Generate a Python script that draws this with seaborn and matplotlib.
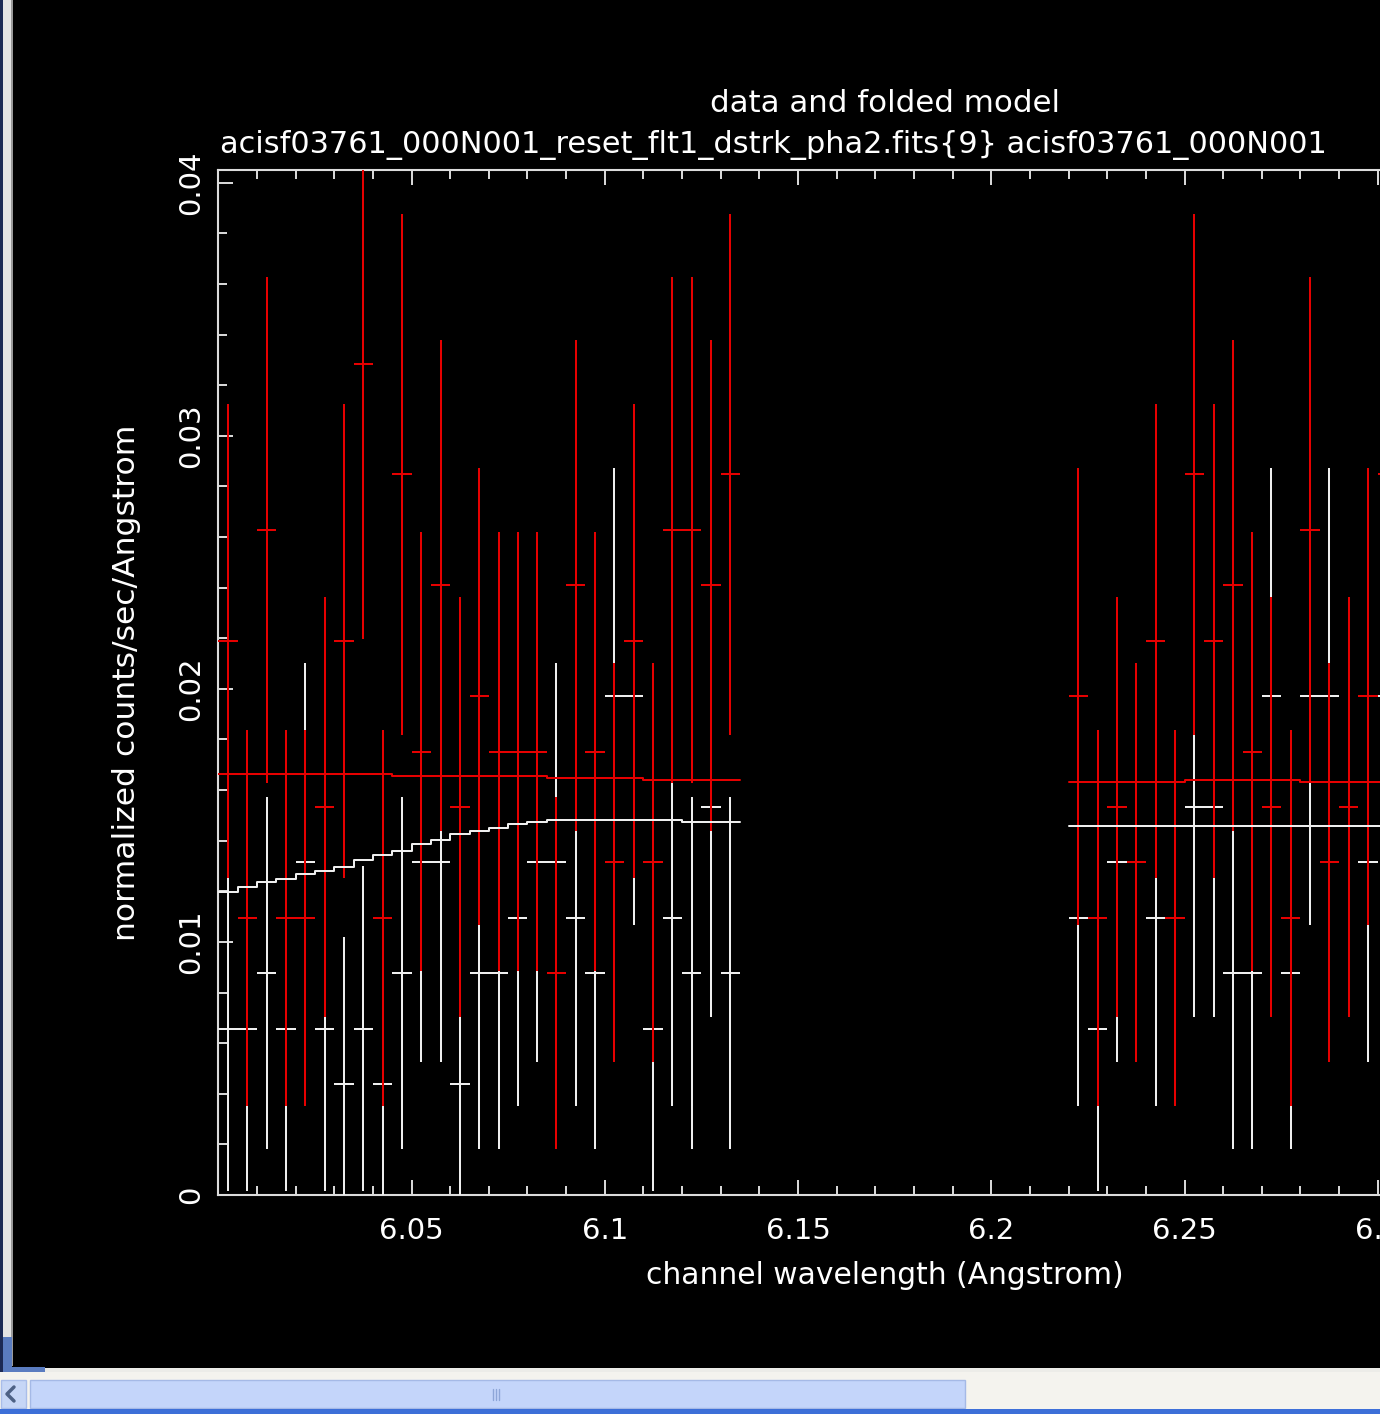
import matplotlib
matplotlib.use("Agg")
import matplotlib.pyplot as plt
import numpy as np
import pandas as pd
import seaborn as sns
from matplotlib.patches import Rectangle
from matplotlib.lines import Line2D

# ---------------- data ----------------
half_width = 0.0025  # half of a 0.005 A channel

x_left = [6.0025, 6.0075, 6.0125, 6.0175, 6.0225, 6.0275, 6.0325, 6.0375, 6.0425,
          6.0475, 6.0525, 6.0575, 6.0625, 6.0675, 6.0725, 6.0775, 6.0825, 6.0875,
          6.0925, 6.0975, 6.1025, 6.1075, 6.1125, 6.1175, 6.1225, 6.1275, 6.1325]
x_right = [6.2225, 6.2275, 6.2325, 6.2375, 6.2425, 6.2475, 6.2525, 6.2575, 6.2625,
           6.2675, 6.2725, 6.2775, 6.2825, 6.2875, 6.2925, 6.2975, 6.3025]

red_left = [0.0219, 0.01095, 0.02628, 0.01095, 0.01095, 0.01533, 0.0219, 0.03285, 0.01095,
            0.02847, 0.01752, 0.02409, 0.01533, 0.01971, 0.01752, 0.01752, 0.01752, 0.00876,
            0.02409, 0.01752, 0.01314, 0.0219, 0.01314, 0.02628, 0.02628, 0.02409, 0.02847]
red_left_err = [0.00937, 0.00744, 0.01001, 0.00744, 0.00744, 0.00829, 0.00937, 0.01088, 0.00744,
                0.01031, 0.00867, 0.0097, 0.00829, 0.00903, 0.00867, 0.00867, 0.00867, 0.00696,
                0.0097, 0.00867, 0.00788, 0.00937, 0.00788, 0.01001, 0.01001, 0.0097, 0.01031]
white_left = [0.00657, 0.00657, 0.00876, 0.00657, 0.01314, 0.00657, 0.00438, 0.00657, 0.00438,
              0.00876, 0.01314, 0.01314, 0.00438, 0.00876, 0.00876, 0.01095, 0.01314, 0.01314,
              0.01095, 0.00876, 0.01971, 0.01971, 0.00657, 0.01095, 0.00876, 0.01533, 0.00876]
white_left_err = [0.00643, 0.00643, 0.00696, 0.00643, 0.00788, 0.00643, 0.00582, 0.00643, 0.00582,
                  0.00696, 0.00788, 0.00788, 0.00582, 0.00696, 0.00696, 0.00744, 0.00788, 0.00788,
                  0.00744, 0.00696, 0.00903, 0.00903, 0.00643, 0.00744, 0.00696, 0.00829, 0.00696]

red_right = [0.01971, 0.01095, 0.01533, 0.01314, 0.0219, 0.01095, 0.02847, 0.0219, 0.02409,
             0.01752, 0.01533, 0.01095, 0.02628, 0.01314, 0.01533, 0.01971, 0.02847]
red_right_err = [0.00903, 0.00744, 0.00829, 0.00788, 0.00937, 0.00744, 0.01031, 0.00937, 0.0097,
                 0.00867, 0.00829, 0.00744, 0.01001, 0.00788, 0.00829, 0.00903, 0.01031]
white_right = [0.01095, 0.00657, 0.01314, 0.01314, 0.01095, 0.01095, 0.01533, 0.01533, 0.00876,
               0.00876, 0.01971, 0.00876, 0.01971, 0.01971, 0.01533, 0.01314, 0.01971]
white_right_err = [0.00744, 0.00643, 0.00788, 0.00788, 0.00744, 0.00744, 0.00829, 0.00829, 0.00696,
                   0.00696, 0.00903, 0.00696, 0.00903, 0.00903, 0.00829, 0.00788, 0.00903]

# folded models (one value per channel)
white_model_left = [0.01196, 0.01218, 0.01235, 0.01249, 0.01267, 0.01281, 0.01297, 0.01322, 0.01345,
                    0.01360, 0.01386, 0.01401, 0.01425, 0.01439, 0.01449, 0.01465, 0.01473, 0.01482,
                    0.01482, 0.01482, 0.01482, 0.01482, 0.01482, 0.01482, 0.01473, 0.01473, 0.01473]
red_model_left = [0.01663, 0.01663, 0.01663, 0.01663, 0.01663, 0.01663, 0.01663, 0.01663, 0.01663,
                  0.01656, 0.01656, 0.01656, 0.01656, 0.01656, 0.01656, 0.01656, 0.01656, 0.01648,
                  0.01648, 0.01648, 0.01648, 0.01648, 0.01640, 0.01640, 0.01640, 0.01640, 0.01640]
white_model_right = [0.01457, 0.01457, 0.01457, 0.01457, 0.01457, 0.01457, 0.01457, 0.01457, 0.01457,
                     0.01457, 0.01457, 0.01457, 0.01457, 0.01457, 0.01457, 0.01457, 0.01457]
red_model_right = [0.01632, 0.01632, 0.01632, 0.01632, 0.01632, 0.01632, 0.01640, 0.01640, 0.01640,
                   0.01640, 0.01640, 0.01640, 0.01632, 0.01632, 0.01632, 0.01632, 0.01632]

x_major = [6.05, 6.1, 6.15, 6.2, 6.25, 6.3]
x_major_labels = ["6.05", "6.1", "6.15", "6.2", "6.25", "6.3"]
y_major = [0.0, 0.01, 0.02, 0.03, 0.04]
y_major_labels = ["0", "0.01", "0.02", "0.03", "0.04"]

title_1 = "data and folded model"
title_2 = "acisf03761_000N001_reset_flt1_dstrk_pha2.fits{9} acisf03761_000N001"
x_label = "channel wavelength (Angstrom)"
y_label = "normalized counts/sec/Angstrom"

# ---------------- style ----------------
sns.set_theme(style="ticks")
plt.rcParams["font.family"] = ["DejaVu Sans"]

W, H = 1380, 1414
fig = plt.figure(figsize=(W / 100, H / 100), dpi=100, facecolor="black")

AX_L, AX_R, AX_T, AX_B = 218.3, 1551.7, 170.0, 1195.0
ax = fig.add_axes([AX_L / W, 1 - AX_B / H, (AX_R - AX_L) / W, (AX_B - AX_T) / H])
ax.set_facecolor("black")

RED = "#e60000"
WHITE = "#eeeeee"
LW = 1.45


def crosses(x, y, e, color):
    ax.errorbar(x, y, xerr=half_width, yerr=e, fmt="none", ecolor=color,
                elinewidth=LW, capsize=0, zorder=3)


def model(x, v, color):
    edges = [c - half_width for c in x] + [x[-1] + half_width]
    df = pd.DataFrame({"x": edges, "y": list(v) + [v[-1]]})
    sns.lineplot(data=df, x="x", y="y", ax=ax, color=color, lw=LW,
                 drawstyle="steps-post", estimator=None, sort=False, zorder=4)


crosses(x_left, white_left, white_left_err, WHITE)
crosses(x_right, white_right, white_right_err, WHITE)
crosses(x_left, red_left, red_left_err, RED)
crosses(x_right, red_right, red_right_err, RED)
model(x_left, white_model_left, WHITE)
model(x_right, white_model_right, WHITE)
model(x_left, red_model_left, RED)
model(x_right, red_model_right, RED)

ax.set_xlim(6.0, 6.345)
ax.set_ylim(0.0, 0.0405)
ax.set_xlabel("")
ax.set_ylabel("")

FS = 21
ax.set_xticks(x_major)
ax.set_xticklabels(x_major_labels, fontsize=FS, color="white")
ax.set_xticks(np.round(np.arange(6.01, 6.345, 0.01), 3), minor=True)
ax.set_yticks(y_major)
ax.set_yticklabels(y_major_labels, fontsize=FS, color="white", rotation=90, va="center")
ax.set_yticks(np.round(np.arange(0.002, 0.0405, 0.002), 4), minor=True)

SPINE = "#dcdcdc"
for s in ax.spines.values():
    s.set_color(SPINE)
    s.set_linewidth(1.5)
ax.tick_params(which="both", direction="in", top=True, right=True, color=SPINE, width=1.4)
ax.tick_params(which="major", length=11)
ax.tick_params(which="minor", length=6.5)
ax.tick_params(axis="x", which="major", pad=16)
ax.tick_params(axis="y", which="major", pad=9.5)

fig.text(885 / W, 1 - 104 / H, title_1, ha="center", va="center", fontsize=22.2, color="white")
fig.text(220 / W, 1 - 145 / H, title_2, ha="left", va="center", fontsize=21.9, color="white")
fig.text(885 / W, 1 - 1276 / H, x_label, ha="center", va="center", fontsize=21.4, color="white")
fig.text(127 / W, 1 - 683 / H, y_label, ha="center", va="center", rotation=90,
         fontsize=22.6, color="white")


# ---------------- window chrome ----------------
def prect(x0, y0, x1, y1, fc, ec="none", lw=0):
    fig.patches.append(Rectangle((x0 / W, 1 - y1 / H), (x1 - x0) / W, (y1 - y0) / H,
                                 transform=fig.transFigure, facecolor=fc, edgecolor=ec,
                                 linewidth=lw, zorder=10))


def pline(xs, ys, color, lw):
    fig.lines.append(Line2D([x / W for x in xs], [1 - y / H for y in ys],
                            transform=fig.transFigure, color=color, lw=lw, zorder=11))


prect(0, 0, 3, 1372, "#1c2a55")
prect(3, 0, 11, 1337, "#e4e4e4")
prect(11, 0, 13, 1366, "#9a9a9a")
prect(3, 1337, 12, 1372, "#5a7cc0")
prect(3, 1367, 45, 1372, "#5a7cc0")
prect(45, 1368, 1380, 1372, "#ecece8")
prect(0, 1372, 1380, 1410, "#f4f3ee")
prect(1, 1380, 26, 1408, "#c6d6f6", "#a9bde9", 1)
pline([14, 7, 14], [1387, 1394, 1401], "#4d6185", 2.5)
prect(30, 1380, 965, 1408, "#c4d5fa", "#a5b9e6", 1)
for gx in (493, 496, 499):
    pline([gx, gx], [1389, 1400], "#8ea6d8", 1)
prect(0, 1409, 1380, 1414, "#3d6fd8")

fig.savefig("out.png", dpi=100, facecolor="black")
